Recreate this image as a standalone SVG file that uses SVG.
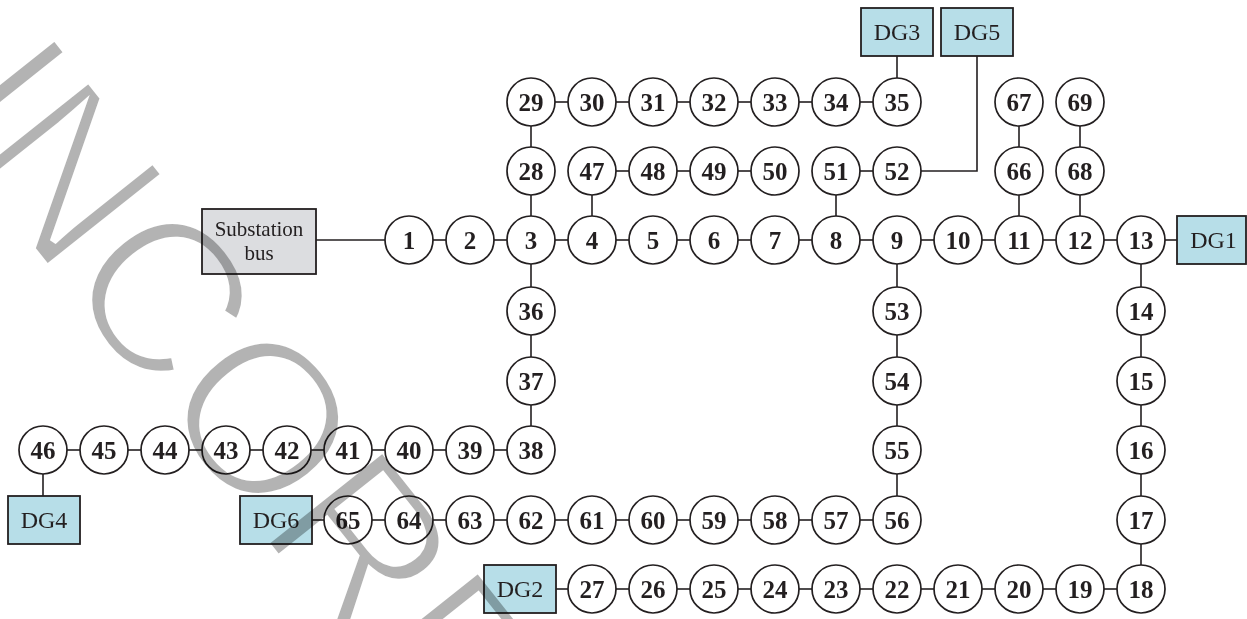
<svg xmlns="http://www.w3.org/2000/svg" width="1247" height="619" viewBox="0 0 1247 619">
<style>
  .bg { fill: #ffffff; }
  .node circle { fill: #ffffff; stroke: #231f20; stroke-width: 1.7; }
  .node text { font-family: "Liberation Serif", "Times New Roman", serif; font-weight: bold; font-size: 25px; fill: #231f20; text-anchor: middle; }
  .dg rect { fill: #b7dee8; stroke: #231f20; stroke-width: 1.8; }
  .dg text, .sub text { font-family: "Liberation Serif", "Times New Roman", serif; font-size: 24px; fill: #231f20; text-anchor: middle; }
  .sub rect { fill: #dcdde0; stroke: #231f20; stroke-width: 1.8; }
  .sub text { font-size: 21px; }
  #connectors line, #connectors path { stroke: #231f20; stroke-width: 1.6; fill: none; }
  .wm { font-family: "Liberation Sans", Arial, sans-serif; font-size: 218px; letter-spacing: -4px; fill: #b3b3b3; stroke: #ffffff; stroke-width: 7; mix-blend-mode: multiply; }
</style>
<rect class="bg" x="0" y="0" width="1247" height="619"/>

<g id="connectors">
  <line x1="316" y1="240" x2="386" y2="240"/>
  <line x1="432" y1="240" x2="447" y2="240"/>
  <line x1="493" y1="240" x2="508" y2="240"/>
  <line x1="554" y1="240" x2="569" y2="240"/>
  <line x1="615" y1="240" x2="630" y2="240"/>
  <line x1="676" y1="240" x2="691" y2="240"/>
  <line x1="737" y1="240" x2="752" y2="240"/>
  <line x1="798" y1="240" x2="813" y2="240"/>
  <line x1="859" y1="240" x2="874" y2="240"/>
  <line x1="920" y1="240" x2="935" y2="240"/>
  <line x1="981" y1="240" x2="996" y2="240"/>
  <line x1="1042" y1="240" x2="1057" y2="240"/>
  <line x1="1103" y1="240" x2="1118" y2="240"/>
  <line x1="1164" y1="240" x2="1177" y2="240"/>
  <line x1="554" y1="102" x2="569" y2="102"/>
  <line x1="615" y1="102" x2="630" y2="102"/>
  <line x1="676" y1="102" x2="691" y2="102"/>
  <line x1="737" y1="102" x2="752" y2="102"/>
  <line x1="798" y1="102" x2="813" y2="102"/>
  <line x1="859" y1="102" x2="874" y2="102"/>
  <line x1="897" y1="79" x2="897" y2="56"/>
  <line x1="615" y1="171" x2="630" y2="171"/>
  <line x1="676" y1="171" x2="691" y2="171"/>
  <line x1="737" y1="171" x2="752" y2="171"/>
  <line x1="859" y1="171" x2="874" y2="171"/>
  <path d="M920 171 H977 V56"/>
  <line x1="531" y1="125" x2="531" y2="148"/>
  <line x1="531" y1="194" x2="531" y2="217"/>
  <line x1="592" y1="194" x2="592" y2="217"/>
  <line x1="836" y1="194" x2="836" y2="217"/>
  <line x1="1019" y1="194" x2="1019" y2="217"/>
  <line x1="1019" y1="125" x2="1019" y2="148"/>
  <line x1="1080" y1="194" x2="1080" y2="217"/>
  <line x1="1080" y1="125" x2="1080" y2="148"/>
  <line x1="531" y1="263" x2="531" y2="288"/>
  <line x1="531" y1="334" x2="531" y2="358"/>
  <line x1="531" y1="404" x2="531" y2="427"/>
  <line x1="897" y1="263" x2="897" y2="288"/>
  <line x1="897" y1="334" x2="897" y2="358"/>
  <line x1="897" y1="404" x2="897" y2="427"/>
  <line x1="897" y1="473" x2="897" y2="497"/>
  <line x1="1141" y1="263" x2="1141" y2="288"/>
  <line x1="1141" y1="334" x2="1141" y2="358"/>
  <line x1="1141" y1="404" x2="1141" y2="427"/>
  <line x1="1141" y1="473" x2="1141" y2="497"/>
  <line x1="1141" y1="543" x2="1141" y2="566"/>
  <line x1="493" y1="450" x2="508" y2="450"/>
  <line x1="432" y1="450" x2="447" y2="450"/>
  <line x1="371" y1="450" x2="386" y2="450"/>
  <line x1="310" y1="450" x2="325" y2="450"/>
  <line x1="249" y1="450" x2="264" y2="450"/>
  <line x1="188" y1="450" x2="203" y2="450"/>
  <line x1="127" y1="450" x2="142" y2="450"/>
  <line x1="66" y1="450" x2="81" y2="450"/>
  <line x1="43" y1="473" x2="43" y2="496"/>
  <line x1="859" y1="520" x2="874" y2="520"/>
  <line x1="798" y1="520" x2="813" y2="520"/>
  <line x1="737" y1="520" x2="752" y2="520"/>
  <line x1="676" y1="520" x2="691" y2="520"/>
  <line x1="615" y1="520" x2="630" y2="520"/>
  <line x1="554" y1="520" x2="569" y2="520"/>
  <line x1="493" y1="520" x2="508" y2="520"/>
  <line x1="432" y1="520" x2="447" y2="520"/>
  <line x1="371" y1="520" x2="386" y2="520"/>
  <line x1="312" y1="520" x2="325" y2="520"/>
  <line x1="1103" y1="589" x2="1118" y2="589"/>
  <line x1="1042" y1="589" x2="1057" y2="589"/>
  <line x1="981" y1="589" x2="996" y2="589"/>
  <line x1="920" y1="589" x2="935" y2="589"/>
  <line x1="859" y1="589" x2="874" y2="589"/>
  <line x1="798" y1="589" x2="813" y2="589"/>
  <line x1="737" y1="589" x2="752" y2="589"/>
  <line x1="676" y1="589" x2="691" y2="589"/>
  <line x1="615" y1="589" x2="630" y2="589"/>
  <line x1="556" y1="589" x2="569" y2="589"/>
</g>

<g id="substation" class="sub">
  <rect x="202" y="209" width="114" height="65"/>
  <text x="259" y="236">Substation</text>
  <text x="259" y="260">bus</text>
</g>

<g id="dg1" class="dg"><rect x="1177" y="216" width="69" height="48"/><text x="1213.5" y="248">DG1</text></g>
<g id="dg2" class="dg"><rect x="484" y="565" width="72" height="48"/><text x="520" y="597">DG2</text></g>
<g id="dg3" class="dg"><rect x="861" y="8" width="72" height="48"/><text x="897" y="40">DG3</text></g>
<g id="dg4" class="dg"><rect x="8" y="496" width="72" height="48"/><text x="44" y="528">DG4</text></g>
<g id="dg5" class="dg"><rect x="941" y="8" width="72" height="48"/><text x="977" y="40">DG5</text></g>
<g id="dg6" class="dg"><rect x="240" y="496" width="72" height="48"/><text x="276" y="528">DG6</text></g>

<g id="n1" class="node"><circle cx="409" cy="240" r="24"/><text x="409" y="249">1</text></g>
<g id="n2" class="node"><circle cx="470" cy="240" r="24"/><text x="470" y="249">2</text></g>
<g id="n3" class="node"><circle cx="531" cy="240" r="24"/><text x="531" y="249">3</text></g>
<g id="n4" class="node"><circle cx="592" cy="240" r="24"/><text x="592" y="249">4</text></g>
<g id="n5" class="node"><circle cx="653" cy="240" r="24"/><text x="653" y="249">5</text></g>
<g id="n6" class="node"><circle cx="714" cy="240" r="24"/><text x="714" y="249">6</text></g>
<g id="n7" class="node"><circle cx="775" cy="240" r="24"/><text x="775" y="249">7</text></g>
<g id="n8" class="node"><circle cx="836" cy="240" r="24"/><text x="836" y="249">8</text></g>
<g id="n9" class="node"><circle cx="897" cy="240" r="24"/><text x="897" y="249">9</text></g>
<g id="n10" class="node"><circle cx="958" cy="240" r="24"/><text x="958" y="249">10</text></g>
<g id="n11" class="node"><circle cx="1019" cy="240" r="24"/><text x="1019" y="249">11</text></g>
<g id="n12" class="node"><circle cx="1080" cy="240" r="24"/><text x="1080" y="249">12</text></g>
<g id="n13" class="node"><circle cx="1141" cy="240" r="24"/><text x="1141" y="249">13</text></g>
<g id="n14" class="node"><circle cx="1141" cy="311" r="24"/><text x="1141" y="320">14</text></g>
<g id="n15" class="node"><circle cx="1141" cy="381" r="24"/><text x="1141" y="390">15</text></g>
<g id="n16" class="node"><circle cx="1141" cy="450" r="24"/><text x="1141" y="459">16</text></g>
<g id="n17" class="node"><circle cx="1141" cy="520" r="24"/><text x="1141" y="529">17</text></g>
<g id="n18" class="node"><circle cx="1141" cy="589" r="24"/><text x="1141" y="598">18</text></g>
<g id="n19" class="node"><circle cx="1080" cy="589" r="24"/><text x="1080" y="598">19</text></g>
<g id="n20" class="node"><circle cx="1019" cy="589" r="24"/><text x="1019" y="598">20</text></g>
<g id="n21" class="node"><circle cx="958" cy="589" r="24"/><text x="958" y="598">21</text></g>
<g id="n22" class="node"><circle cx="897" cy="589" r="24"/><text x="897" y="598">22</text></g>
<g id="n23" class="node"><circle cx="836" cy="589" r="24"/><text x="836" y="598">23</text></g>
<g id="n24" class="node"><circle cx="775" cy="589" r="24"/><text x="775" y="598">24</text></g>
<g id="n25" class="node"><circle cx="714" cy="589" r="24"/><text x="714" y="598">25</text></g>
<g id="n26" class="node"><circle cx="653" cy="589" r="24"/><text x="653" y="598">26</text></g>
<g id="n27" class="node"><circle cx="592" cy="589" r="24"/><text x="592" y="598">27</text></g>
<g id="n28" class="node"><circle cx="531" cy="171" r="24"/><text x="531" y="180">28</text></g>
<g id="n29" class="node"><circle cx="531" cy="102" r="24"/><text x="531" y="111">29</text></g>
<g id="n30" class="node"><circle cx="592" cy="102" r="24"/><text x="592" y="111">30</text></g>
<g id="n31" class="node"><circle cx="653" cy="102" r="24"/><text x="653" y="111">31</text></g>
<g id="n32" class="node"><circle cx="714" cy="102" r="24"/><text x="714" y="111">32</text></g>
<g id="n33" class="node"><circle cx="775" cy="102" r="24"/><text x="775" y="111">33</text></g>
<g id="n34" class="node"><circle cx="836" cy="102" r="24"/><text x="836" y="111">34</text></g>
<g id="n35" class="node"><circle cx="897" cy="102" r="24"/><text x="897" y="111">35</text></g>
<g id="n36" class="node"><circle cx="531" cy="311" r="24"/><text x="531" y="320">36</text></g>
<g id="n37" class="node"><circle cx="531" cy="381" r="24"/><text x="531" y="390">37</text></g>
<g id="n38" class="node"><circle cx="531" cy="450" r="24"/><text x="531" y="459">38</text></g>
<g id="n39" class="node"><circle cx="470" cy="450" r="24"/><text x="470" y="459">39</text></g>
<g id="n40" class="node"><circle cx="409" cy="450" r="24"/><text x="409" y="459">40</text></g>
<g id="n41" class="node"><circle cx="348" cy="450" r="24"/><text x="348" y="459">41</text></g>
<g id="n42" class="node"><circle cx="287" cy="450" r="24"/><text x="287" y="459">42</text></g>
<g id="n43" class="node"><circle cx="226" cy="450" r="24"/><text x="226" y="459">43</text></g>
<g id="n44" class="node"><circle cx="165" cy="450" r="24"/><text x="165" y="459">44</text></g>
<g id="n45" class="node"><circle cx="104" cy="450" r="24"/><text x="104" y="459">45</text></g>
<g id="n46" class="node"><circle cx="43" cy="450" r="24"/><text x="43" y="459">46</text></g>
<g id="n47" class="node"><circle cx="592" cy="171" r="24"/><text x="592" y="180">47</text></g>
<g id="n48" class="node"><circle cx="653" cy="171" r="24"/><text x="653" y="180">48</text></g>
<g id="n49" class="node"><circle cx="714" cy="171" r="24"/><text x="714" y="180">49</text></g>
<g id="n50" class="node"><circle cx="775" cy="171" r="24"/><text x="775" y="180">50</text></g>
<g id="n51" class="node"><circle cx="836" cy="171" r="24"/><text x="836" y="180">51</text></g>
<g id="n52" class="node"><circle cx="897" cy="171" r="24"/><text x="897" y="180">52</text></g>
<g id="n53" class="node"><circle cx="897" cy="311" r="24"/><text x="897" y="320">53</text></g>
<g id="n54" class="node"><circle cx="897" cy="381" r="24"/><text x="897" y="390">54</text></g>
<g id="n55" class="node"><circle cx="897" cy="450" r="24"/><text x="897" y="459">55</text></g>
<g id="n56" class="node"><circle cx="897" cy="520" r="24"/><text x="897" y="529">56</text></g>
<g id="n57" class="node"><circle cx="836" cy="520" r="24"/><text x="836" y="529">57</text></g>
<g id="n58" class="node"><circle cx="775" cy="520" r="24"/><text x="775" y="529">58</text></g>
<g id="n59" class="node"><circle cx="714" cy="520" r="24"/><text x="714" y="529">59</text></g>
<g id="n60" class="node"><circle cx="653" cy="520" r="24"/><text x="653" y="529">60</text></g>
<g id="n61" class="node"><circle cx="592" cy="520" r="24"/><text x="592" y="529">61</text></g>
<g id="n62" class="node"><circle cx="531" cy="520" r="24"/><text x="531" y="529">62</text></g>
<g id="n63" class="node"><circle cx="470" cy="520" r="24"/><text x="470" y="529">63</text></g>
<g id="n64" class="node"><circle cx="409" cy="520" r="24"/><text x="409" y="529">64</text></g>
<g id="n65" class="node"><circle cx="348" cy="520" r="24"/><text x="348" y="529">65</text></g>
<g id="n66" class="node"><circle cx="1019" cy="171" r="24"/><text x="1019" y="180">66</text></g>
<g id="n67" class="node"><circle cx="1019" cy="102" r="24"/><text x="1019" y="111">67</text></g>
<g id="n68" class="node"><circle cx="1080" cy="171" r="24"/><text x="1080" y="180">68</text></g>
<g id="n69" class="node"><circle cx="1080" cy="102" r="24"/><text x="1080" y="111">69</text></g>

<g id="watermark">
  <text class="wm" transform="translate(-75,114.6) rotate(51.5)" x="0" y="0">INCORRECT</text>
</g>
</svg>
